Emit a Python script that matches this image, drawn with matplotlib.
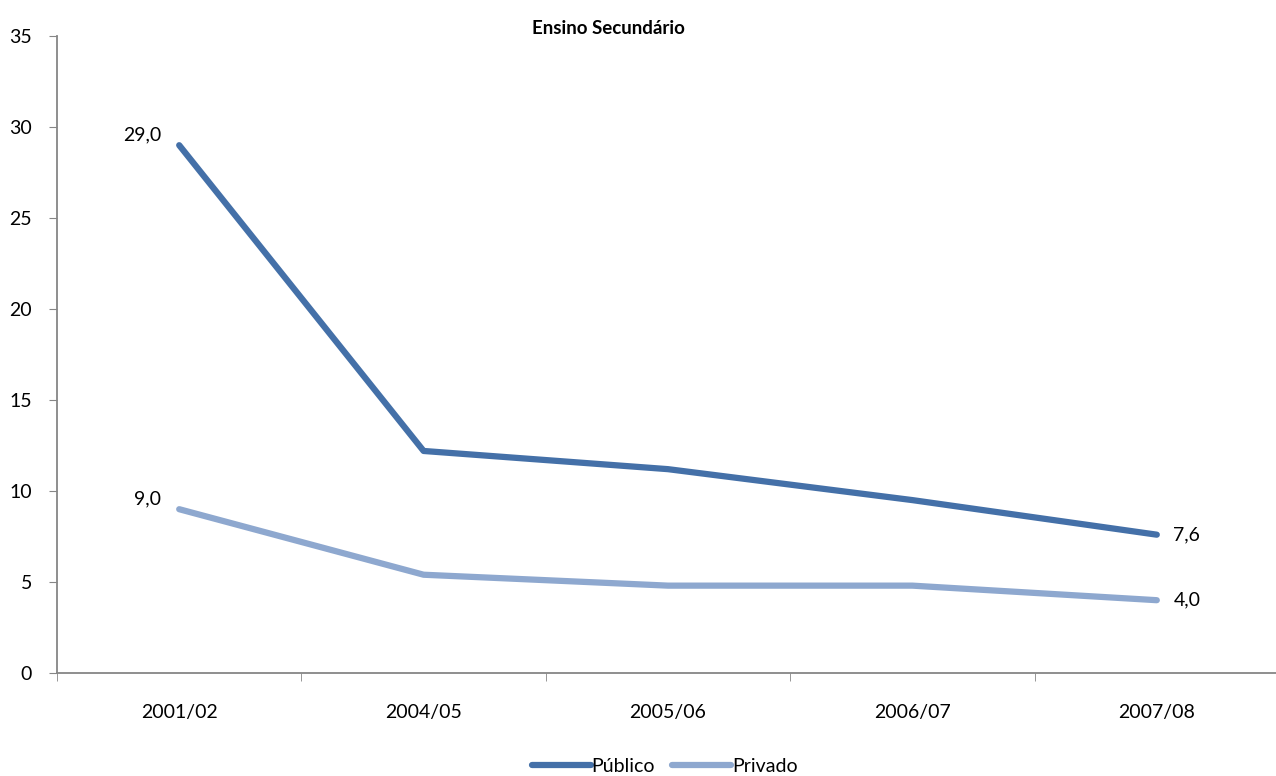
import matplotlib.pyplot as plt

plt.rcParams['font.family'] = ['Lato', 'DejaVu Sans']

anos = ["2001/02", "2004/05", "2005/06", "2006/07", "2007/08"]
publico = [29.0, 12.2, 11.2, 9.5, 7.6]
privado = [9.0, 5.4, 4.8, 4.8, 4.0]

cor_publico = "#4470A8"
cor_privado = "#8EA8CF"
cinza = "#868686"

fig = plt.figure(figsize=(12.76, 7.76), dpi=100)
ax = fig.add_axes([57 / 1276, 103 / 776, 1222 / 1276, 637 / 776])

x = list(range(len(anos)))
ax.plot(x, publico, color=cor_publico, lw=4.5, solid_capstyle='round', label="Público")
ax.plot(x, privado, color=cor_privado, lw=4.5, solid_capstyle='round', label="Privado")

# rótulos só no primeiro e último ponto
def rotulo(v):
    return f"{v:.1f}".replace(".", ",")

for serie in (publico, privado):
    ax.annotate(rotulo(serie[0]), (0, serie[0]), xytext=(-13, 1), textcoords='offset points',
                ha='right', va='bottom', fontsize=14)
    ax.annotate(rotulo(serie[-1]), (x[-1], serie[-1]), xytext=(12, 0), textcoords='offset points',
                ha='left', va='center', fontsize=14)

ax.set_xlim(-0.5, 4.5)
ax.set_ylim(0, 35)
ax.set_yticks(range(0, 36, 5))
ax.set_xticks(x)
ax.set_xticklabels(anos, fontsize=14)
ax.set_xticks([i - 0.5 for i in range(len(anos) + 1)], minor=True)
ax.tick_params(axis='x', which='major', length=0, pad=22)
ax.tick_params(axis='x', which='minor', length=6, color=cinza, direction='out')
ax.tick_params(axis='y', length=6, color=cinza, direction='out', labelsize=14, pad=12)

for s in ('top', 'right'):
    ax.spines[s].set_visible(False)
for s in ('left', 'bottom'):
    ax.spines[s].set_color(cinza)
    ax.spines[s].set_linewidth(1.3)

fig.text(0.477, 0.963, "Ensino Secundário", ha='center', va='center', fontsize=13.5, fontweight='bold')

fig.legend(loc='center', bbox_to_anchor=(0.521, 0.012), ncol=2, frameon=False, fontsize=14,
           handlelength=3.0, handletextpad=0.05, columnspacing=0.9)

fig.savefig("out.png", dpi=100)
